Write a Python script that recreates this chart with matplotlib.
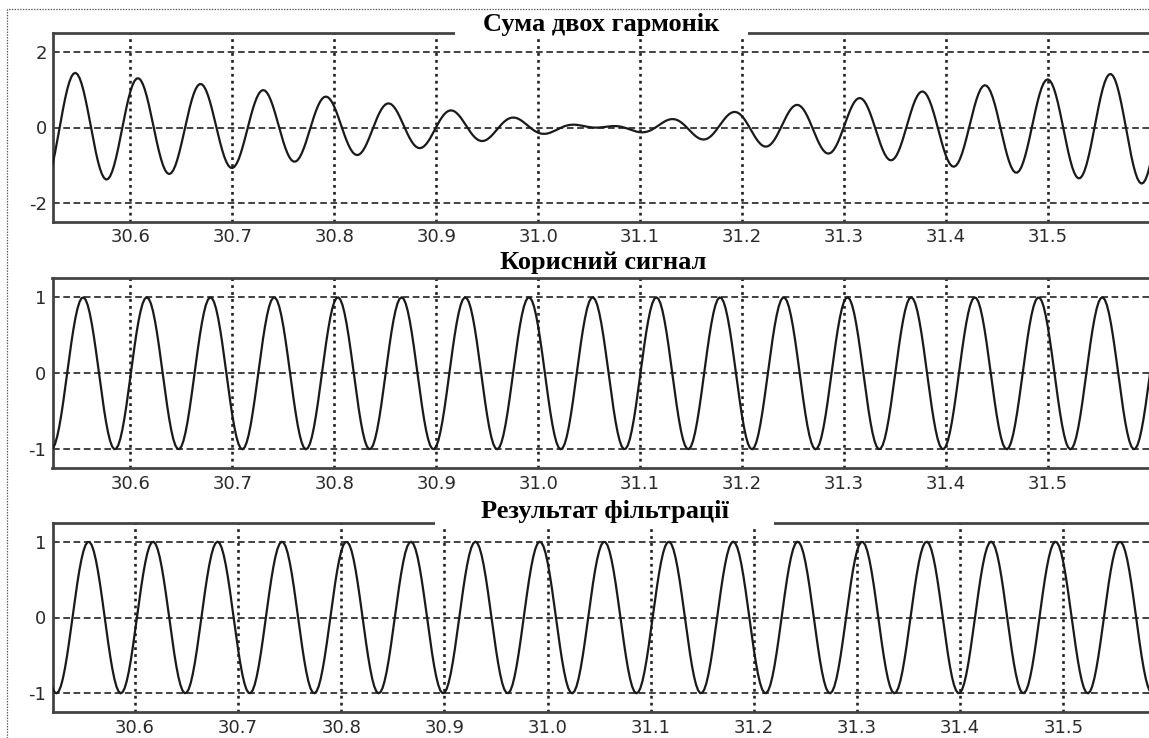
import numpy as np
import matplotlib
matplotlib.use("Agg")
import matplotlib.pyplot as plt
from matplotlib.lines import Line2D
from matplotlib.patches import Rectangle
from matplotlib.ticker import FixedLocator, FixedFormatter

plt.rcParams["lines.scale_dashes"] = False

W, H = 1149, 738
DPI = 100

# --- signal description -------------------------------------------------
# useful harmonic and interfering harmonic (frequency in Hz, time of a crest)
useful_freq = 16.0
useful_crest = 30.5535
noise_freq = 16.5
noise_crest = 31.0234
filtered_freq = 16.0
filtered_crest = 30.555
amplitudes = [1.0, 1.0]
sample_step = 0.002

titles = ["Сума двох гармонік", "Корисний сигнал", "Результат фільтрації"]
x_ticks = [30.6, 30.7, 30.8, 30.9, 31.0, 31.1, 31.2, 31.3, 31.4, 31.5]
x_tick_labels = ["30.6", "30.7", "30.8", "30.9", "31.0", "31.1", "31.2",
                 "31.3", "31.4", "31.5"]
y_ticks_sum = [-2, 0, 2]
y_ticks_unit = [-1, 0, 1]
y_limits = [(-2.5, 2.5), (-1.25, 1.25), (-1.25, 1.25)]
x_limits = [(30.524, 31.6023), (30.5235, 31.6023), (30.52, 31.586)]

t = np.arange(30.50, 31.62, sample_step)
useful = amplitudes[0] * np.cos(2 * np.pi * useful_freq * (t - useful_crest))
noise = amplitudes[1] * np.cos(2 * np.pi * noise_freq * (t - noise_crest))
mixture = useful + noise
filtered = amplitudes[0] * np.cos(2 * np.pi * filtered_freq * (t - filtered_crest))
series = [mixture, useful, filtered]
y_tick_sets = [y_ticks_sum, y_ticks_unit, y_ticks_unit]


def px_rect(left, top, right, bottom):
    return [left / W, (H - bottom) / H, (right - left) / W, (bottom - top) / H]


fig = plt.figure(figsize=(W / DPI, H / DPI), dpi=DPI, facecolor="white")

axes_boxes = [(53, 33, 1152, 222), (52.5, 278.3, 1152, 468.3),
              (52.5, 522.7, 1152, 712.3)]

for i, box in enumerate(axes_boxes):
    ax = fig.add_axes(px_rect(*box))
    ax.plot(t, series[i], color="#1a1a1a", lw=1.6, zorder=3)
    ax.set_xlim(*x_limits[i])
    ax.set_ylim(*y_limits[i])
    ax.xaxis.set_major_locator(FixedLocator(x_ticks))
    ax.xaxis.set_major_formatter(FixedFormatter(x_tick_labels))
    ax.set_yticks(y_tick_sets[i])
    ax.set_yticklabels([str(v) for v in y_tick_sets[i]])
    for v in y_tick_sets[i]:
        ax.axhline(v, color="#222222", lw=1.2, ls=(0, (4.8, 2.6)), zorder=2)
    for v in x_ticks:
        ax.axvline(v, color="#222222", lw=1.9, ls=(0, (2.0, 3.0)), zorder=2)
    ax.tick_params(length=0, labelsize=13, colors="#2a2a2a", pad=4.5)
    for lbl in ax.get_xticklabels() + ax.get_yticklabels():
        lbl.set_family("DejaVu Sans")
    for s in ax.spines.values():
        s.set_color("#444444")
        s.set_linewidth(2.0)

# title plates and captions
plates = [(455, 12, 748, 38), (470, 248, 735, 276), (435, 494, 774, 527)]
title_pos = [(601.5, 31.5), (603, 269.3), (604.7, 518.3)]
for (l, tp, r, b), (cx, base), text in zip(plates, title_pos, titles):
    fig.add_artist(Rectangle((l / W, 1 - b / H), (r - l) / W, (b - tp) / H,
                             transform=fig.transFigure, facecolor="white",
                             edgecolor="none", zorder=5))
    fig.text(cx / W, 1 - base / H, text, ha="center", va="baseline",
             fontsize=19, fontweight="bold", family="Liberation Serif",
             color="black", zorder=6)

# dotted frame around the figure
fig.add_artist(Line2D([7 / W, 7 / W, 1.0], [0.0, 1 - 9 / H, 1 - 9 / H],
                      transform=fig.transFigure, color="#555555", lw=0.9,
                      ls=(0, (1, 1)), zorder=7))

fig.savefig("out.png", dpi=DPI, facecolor="white")
